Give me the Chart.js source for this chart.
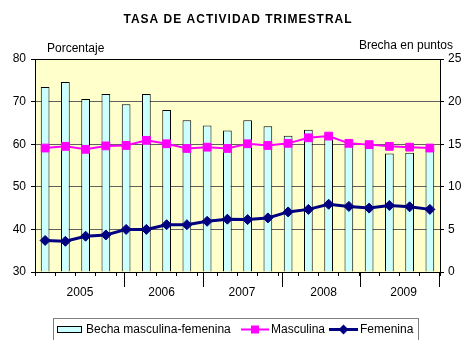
<!DOCTYPE html>
<html>
<head>
<meta charset="utf-8">
<script src="https://cdn.jsdelivr.net/npm/chart.js@4/dist/chart.umd.min.js"></script>
<style>
  html, body { margin: 0; padding: 0; background: #fff; }
  canvas { display: block; }
</style>
</head>
<body>
<canvas id="grafico" width="461" height="340"></canvas>
<script>
// Datos trimestrales 2005-2009
const anios = ['2005', '2006', '2007', '2008', '2009'];
const trimestres = ['I', 'II', 'III', 'IV'];
const brecha = [21.7, 22.3, 20.3, 20.9, 19.7, 20.9, 19.0, 17.8, 17.2, 16.6,
                17.8, 17.1, 16.0, 16.7, 16.0, 14.8, 14.9, 13.9, 14.0, 14.4];
const masculina = [59.1, 59.5, 58.8, 59.6, 59.7, 60.9, 60.1, 59.0, 59.3, 59.0,
                   60.1, 59.7, 60.2, 61.5, 61.9, 60.2, 59.9, 59.5, 59.3, 59.1];
const femenina = [37.4, 37.2, 38.4, 38.7, 40.0, 40.0, 41.1, 41.1, 41.9, 42.4,
                  42.3, 42.7, 44.1, 44.7, 45.9, 45.4, 45.0, 45.6, 45.3, 44.7];
// posición de los rótulos de año y de las marcas largas (en unidades de trimestre)
const posAnios = [1.72, 5.75, 9.72, 13.75, 17.7];
const limitesAnios = [3.9, 7.8, 11.7, 15.55, 19.45];

const etiquetas = anios.flatMap(a => trimestres.map(t => t + ' ' + a));

const FUENTE = 'Arial, "Liberation Sans", sans-serif';
const ROSA = '#FF00FF';
const AZUL = '#000080';
const CIAN = '#CCFFFF';

// Fondo, marcas de año, textos y leyenda
const decoracion = {
  id: 'decoracion',
  beforeDraw(chart) {
    const { ctx, chartArea: a } = chart;
    ctx.save();
    ctx.fillStyle = '#fff';
    ctx.fillRect(0, 0, chart.width, chart.height);
    ctx.fillStyle = '#FFFFCC';
    ctx.fillRect(a.left, a.top, a.right - a.left, a.bottom - a.top);
    ctx.restore();
  },
  afterDraw(chart) {
    const { ctx, chartArea: a } = chart;
    const x2 = chart.scales.x2;
    ctx.save();
    // borde superior del área de trazado
    ctx.strokeStyle = '#000';
    ctx.lineWidth = 1;
    ctx.beginPath();
    ctx.moveTo(a.left, a.top + 0.5);
    ctx.lineTo(a.right, a.top + 0.5);
    ctx.stroke();

    // marcas largas entre años
    limitesAnios.forEach(v => {
      const px = Math.round(x2.getPixelForValue(v)) + 0.5;
      ctx.beginPath();
      ctx.moveTo(px, a.bottom);
      ctx.lineTo(px, a.bottom + 15);
      ctx.stroke();
    });

    // títulos
    ctx.fillStyle = '#000';
    ctx.textBaseline = 'middle';
    ctx.textAlign = 'center';
    ctx.font = 'bold 12px ' + FUENTE;
    ctx.letterSpacing = '1px';
    ctx.fillText('TASA DE ACTIVIDAD TRIMESTRAL', 238, 20);
    ctx.letterSpacing = '0px';
    ctx.font = '12px ' + FUENTE;
    ctx.textAlign = 'left';
    ctx.fillText('Porcentaje', 47, 49);
    ctx.textAlign = 'right';
    ctx.fillText('Brecha en puntos', 453, 46);

    // leyenda
    ctx.strokeStyle = '#808080';
    ctx.strokeRect(53.5, 318.5, 365, 40);
    const yl = 329.5;
    ctx.fillStyle = CIAN;
    ctx.fillRect(57, 326, 25, 7);
    ctx.strokeStyle = '#000';
    ctx.strokeRect(57.5, 326.5, 24, 6);

    ctx.strokeStyle = ROSA;
    ctx.lineWidth = 2;
    ctx.beginPath();
    ctx.moveTo(241, yl);
    ctx.lineTo(269, yl);
    ctx.stroke();
    ctx.fillStyle = ROSA;
    ctx.fillRect(251, yl - 4, 8, 8);

    ctx.strokeStyle = AZUL;
    ctx.lineWidth = 3;
    ctx.beginPath();
    ctx.moveTo(329, yl);
    ctx.lineTo(358, yl);
    ctx.stroke();
    ctx.fillStyle = AZUL;
    ctx.beginPath();
    ctx.moveTo(343.5 - 5, yl);
    ctx.lineTo(343.5, yl - 5);
    ctx.lineTo(343.5 + 5, yl);
    ctx.lineTo(343.5, yl + 5);
    ctx.closePath();
    ctx.fill();

    ctx.fillStyle = '#000';
    ctx.textAlign = 'left';
    ctx.fillText('Becha masculina-femenina', 86, yl);
    ctx.fillText('Masculina', 271, yl);
    ctx.fillText('Femenina', 360, yl);
    ctx.restore();
  }
};

const fuenteTicks = { family: FUENTE, size: 12 };

const datos = {
  labels: etiquetas,
  datasets: [
    {
      type: 'line',
      label: 'Femenina',
      data: femenina,
      yAxisID: 'y',
      borderColor: AZUL,
      backgroundColor: AZUL,
      borderWidth: 3,
      tension: 0,
      pointStyle: 'rectRot',
      pointRadius: 5,
      pointBorderWidth: 1,
      pointBorderColor: AZUL,
      order: 1
    },
    {
      type: 'line',
      label: 'Masculina',
      data: masculina,
      yAxisID: 'y',
      borderColor: ROSA,
      backgroundColor: ROSA,
      borderWidth: 2,
      tension: 0,
      pointStyle: 'rect',
      pointRadius: 5.5,
      pointBorderWidth: 1,
      pointBorderColor: ROSA,
      order: 2
    },
    {
      type: 'bar',
      label: 'Becha masculina-femenina',
      data: brecha,
      yAxisID: 'y1',
      backgroundColor: CIAN,
      borderColor: '#000',
      borderWidth: 1,
      barPercentage: 0.43,
      categoryPercentage: 1,
      order: 3
    }
  ]
};

const config = {
  type: 'bar',
  data: datos,
  plugins: [decoracion],
  options: {
    responsive: false,
    animation: false,
    layout: { padding: { top: 59, bottom: 38, left: 0, right: 0 } },
    plugins: {
      legend: { display: false },
      title: { display: false },
      tooltip: { enabled: false }
    },
    scales: {
      x: {
        type: 'category',
        position: 'bottom',
        offset: true,
        grid: { offset: true, drawOnChartArea: false, tickLength: 4, color: '#000' },
        border: { color: '#000' },
        ticks: { display: false },
        afterFit: s => { s.height = 5; }
      },
      x2: {
        type: 'linear',
        position: 'bottom',
        min: -0.5,
        max: 19.5,
        offset: false,
        grid: { display: false, offset: false },
        border: { display: false },
        afterBuildTicks: s => { s.ticks = posAnios.map(v => ({ value: v })); },
        ticks: {
          callback: (v, i) => anios[i],
          padding: 0,
          font: fuenteTicks,
          color: '#000',
          maxRotation: 0,
          autoSkip: false
        },
        afterFit: s => { s.height = 25; }
      },
      y: {
        position: 'left',
        min: 30,
        max: 80,
        ticks: { stepSize: 10, padding: 5, font: fuenteTicks, color: '#000' },
        grid: { color: '#606060', tickColor: '#000', tickLength: 4 },
        border: { color: '#000' },
        afterFit: s => { s.width = 35; }
      },
      y1: {
        position: 'right',
        min: 0,
        max: 25,
        ticks: { stepSize: 5, padding: 4, font: fuenteTicks, color: '#000' },
        grid: { drawOnChartArea: false, tickColor: '#000', tickLength: 4 },
        border: { color: '#000' },
        afterFit: s => { s.width = 21; }
      }
    }
  }
};

const grafico = new Chart(document.getElementById('grafico'), config);
</script>
</body>
</html>
